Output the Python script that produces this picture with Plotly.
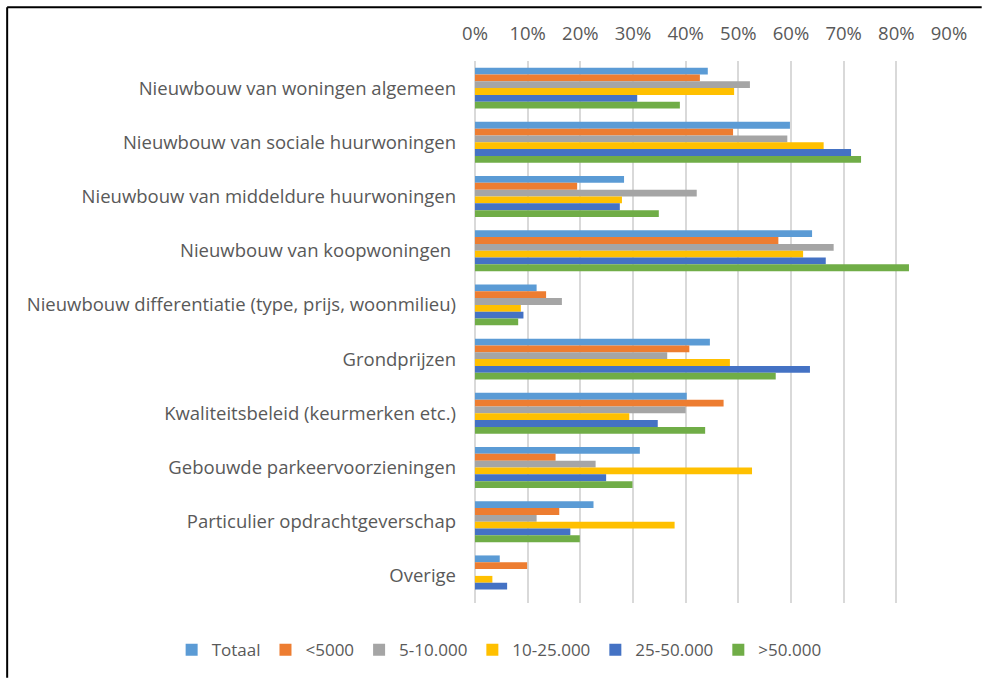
import plotly.graph_objects as go

categories = [
    'Nieuwbouw van woningen algemeen',
    'Nieuwbouw van sociale huurwoningen',
    'Nieuwbouw van middeldure huurwoningen',
    'Nieuwbouw van koopwoningen ',
    'Nieuwbouw differentiatie (type, prijs, woonmilieu)',
    'Grondprijzen',
    'Kwaliteitsbeleid (keurmerken etc.)',
    'Gebouwde parkeervoorzieningen',
    'Particulier opdrachtgeverschap',
    'Overige',
]

totaal = [0.442, 0.598, 0.283, 0.640, 0.117, 0.446, 0.402, 0.313, 0.225, 0.047]
lt_5000 = [0.427, 0.490, 0.194, 0.576, 0.135, 0.407, 0.472, 0.153, 0.160, 0.099]
k5_10 = [0.522, 0.593, 0.421, 0.681, 0.165, 0.365, 0.400, 0.229, 0.117, 0.0]
k10_25 = [0.492, 0.662, 0.279, 0.623, 0.087, 0.484, 0.293, 0.526, 0.379, 0.033]
k25_50 = [0.308, 0.714, 0.275, 0.666, 0.092, 0.636, 0.347, 0.249, 0.181, 0.061]
gt_50 = [0.389, 0.733, 0.349, 0.824, 0.082, 0.571, 0.437, 0.299, 0.199, 0.0]

series = [
    ('Totaal', totaal, '#5B9BD5'),
    ('<5000', lt_5000, '#ED7D31'),
    ('5-10.000', k5_10, '#A5A5A5'),
    ('10-25.000', k10_25, '#FFC000'),
    ('25-50.000', k25_50, '#4472C4'),
    ('>50.000', gt_50, '#70AD47'),
]

font = dict(family='Open Sans', size=18.5, color='#595959')

fig = go.Figure()
for name, vals, color in series:
    fig.add_trace(go.Bar(
        x=vals, y=categories, name=name, orientation='h',
        marker=dict(color=color, line=dict(width=0)),
    ))

fig.update_layout(
    width=982, height=679,
    barmode='group', bargap=0.245, bargroupgap=0,
    plot_bgcolor='white', paper_bgcolor='white',
    font=font,
    margin=dict(l=475, r=33, t=61, b=75),
    xaxis=dict(
        side='top', range=[0, 0.9], dtick=0.1, tickformat='.0%',
        showgrid=True, gridcolor='#d9d9d9', gridwidth=1.5,
        zeroline=True, zerolinecolor='#d9d9d9', zerolinewidth=1.5,
        showline=False, ticks='', ticklabelstandoff=16, fixedrange=True,
    ),
    yaxis=dict(
        autorange='reversed', showgrid=False, showline=False, ticks='',
        ticklabelstandoff=18, fixedrange=True,
    ),
    legend=dict(
        orientation='h', x=-0.64, xanchor='left', y=-0.085, yanchor='middle',
        font=dict(family='Open Sans', size=17, color='#595959'),
        traceorder='normal', itemwidth=30,
    ),
    showlegend=True,
)

# frame around the chart (top and left edges visible)
fig.add_shape(type='line', xref='paper', yref='paper',
              x0=-0.987, x1=1.069, y0=1.0994, y1=1.0994,
              line=dict(color='black', width=2))
fig.add_shape(type='line', xref='paper', yref='paper',
              x0=-0.987, x1=-0.987, y0=1.0994, y1=-0.138,
              line=dict(color='black', width=2))

fig.write_html(
    'out.html',
    config={'displayModeBar': False},
    post_script="document.body.style.margin='0';document.body.style.overflow='hidden';",
)
